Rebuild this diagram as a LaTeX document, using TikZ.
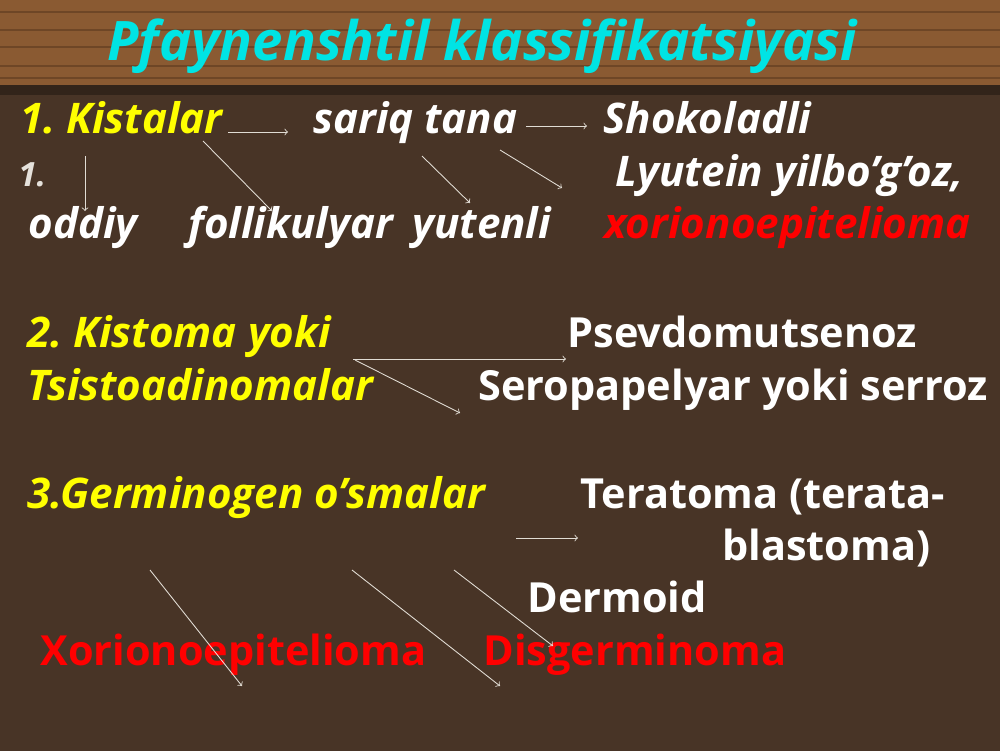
\documentclass[tikz,border=0pt]{standalone}
\usepackage{fontspec}
\setmainfont{Open Sans}
\usepackage{tikz}
\frenchspacing

\definecolor{woodtop}{RGB}{138,90,50}
\definecolor{woodgrain}{RGB}{110,70,38}
\definecolor{woodbot}{RGB}{72,52,38}
\definecolor{woodedge}{RGB}{50,36,26}
\definecolor{titlecyan}{RGB}{0,228,228}
\definecolor{headyellow}{RGB}{255,255,0}
\definecolor{termred}{RGB}{255,0,0}
\definecolor{arrowgrey}{RGB}{225,220,212}

\tikzset{
    term/.style={anchor=base west, inner sep=0pt, text=white,
        font=\fontsize{24}{28}\selectfont\bfseries\itshape},
    uterm/.style={term, font=\fontsize{23.6}{28}\selectfont\bfseries},
    arr/.style={->, draw=arrowgrey, line width=0.5pt}
}

\begin{document}
\begin{tikzpicture}[x=0.2mm,y=-0.2mm]
            \useasboundingbox (0,0) rectangle (1000,750);
            % background
            \fill[woodbot] (-5,-5) rectangle (1005,755);
            \fill[woodtop] (-5,-5) rectangle (1005,85);
            \foreach \y in {12,30,47,66,78}
                \draw[woodgrain, line width=1.2pt] (-5,\y) -- (1005,\y);
            \fill[woodedge] (-5,85) rectangle (1005,95);
            % title
            \node[term, text=titlecyan, font=\fontsize{31}{36}\selectfont\bfseries\itshape] (title) at (107,60) {Pfaynenshtil klassifikatsiyasi};
            % 1. Kistalar
            \node[term, text=headyellow] (kist) at (20,133) {1. Kistalar};
            \node[term] (sariq) at (313,133) {sariq tana};
            \node[term] (shok) at (603,133) {Shokoladli};
            \node[term, text=arrowgrey!85, font=\fontsize{19}{22}\selectfont\bfseries\itshape] (one) at (18,186) {1.};
            \node[term] (lyut) at (615,186) {Lyutein yilbo’g’oz,};
            \node[term] (oddiy) at (28,238) {oddiy};
            \node[term] (foll) at (188,238) {follikulyar};
            \node[term] (yut) at (412,238) {yutenli};
            \node[term, text=termred] (xor) at (604,238) {xorionoepitelioma};
            % 2. Kistoma
            \node[term, text=headyellow] (kistoma) at (27,347) {2. Kistoma yoki};
            \node[term, text=headyellow] (tsist) at (27,400) {Tsistoadinomalar};
            \node[uterm] (psev) at (567,347) {Psevdomutsenoz};
            \node[uterm] (sero) at (478,400) {Seropapelyar yoki serroz};
            % 3. Germinogen
            \node[term, text=headyellow] (germ) at (27,508) {3.Germinogen o’smalar};
            \node[uterm] (terat) at (580,508) {Teratoma (terata-};
            \node[uterm] (blast) at (722,560) {blastoma)};
            \node[uterm] (derm) at (527,612) {Dermoid};
            \node[uterm, text=termred] (xorg) at (40,665) {Xorionoepitelioma};
            \node[uterm, text=termred] (disg) at (483,665) {Disgerminoma};
            % arrow ends
            \coordinate (a1) at (228,132); \coordinate (b1) at (288,132);
            \coordinate (a2) at (526,126); \coordinate (b2) at (587,126);
            \coordinate (a3) at (85,156);  \coordinate (b3) at (85,211);
            \coordinate (a4) at (203,141); \coordinate (b4) at (272,211);
            \coordinate (a5) at (422,156); \coordinate (b5) at (470,203);
            \coordinate (a6) at (500,150); \coordinate (b6) at (562,188);
            \coordinate (a7) at (353,359); \coordinate (b7) at (566,359);
            \coordinate (a8) at (355,360); \coordinate (b8) at (460,413);
            \coordinate (a9) at (516,538); \coordinate (b9) at (578,538);
            \coordinate (a10) at (150,570); \coordinate (b10) at (242,686);
            \coordinate (a11) at (352,570); \coordinate (b11) at (500,686);
            \coordinate (a12) at (454,570); \coordinate (b12) at (553,646);
            \foreach \i in {1,...,12}
                \draw[arr] (a\i) -- (b\i);
        \end{tikzpicture}
\end{document}
